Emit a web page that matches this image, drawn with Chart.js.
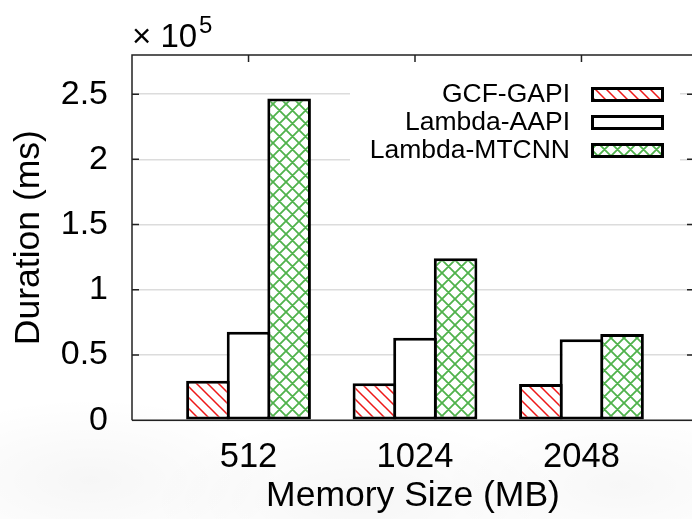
<!DOCTYPE html>
<html>
<head>
<meta charset="utf-8">
<script src="https://cdn.jsdelivr.net/npm/chart.js@4"></script>
<style>
  html, body { margin: 0; padding: 0; background: #fff; }
  #wrap {
    position: relative; width: 692px; height: 519px; overflow: hidden;
    background:
      radial-gradient(ellipse 260px 110px at 90px 480px, rgba(0,0,0,0.035), rgba(0,0,0,0) 75%),
      radial-gradient(ellipse 280px 110px at 360px 500px, rgba(0,0,0,0.035), rgba(0,0,0,0) 75%),
      radial-gradient(ellipse 240px 100px at 620px 485px, rgba(0,0,0,0.03), rgba(0,0,0,0) 75%),
      #fff;
  }
  #box { width: 694px; height: 519px; }
</style>
</head>
<body>
<div id="wrap"><div id="box"><canvas id="myChart"></canvas></div></div>
<script>
/* DATA */
const memorySizes = ['512', '1024', '2048'];
const seriesNames = ['GCF-GAPI', 'Lambda-AAPI', 'Lambda-MTCNN'];
const gcfGapi = [30300, 28300, 27800];
const lambdaAapi = [67900, 63300, 62000];
const lambdaMtcnn = [246700, 124100, 66100];
const yTicks = [0, 50000, 100000, 150000, 200000, 250000];
const yTickLabels = ['0', '0.5', '1', '1.5', '2', '2.5'];
const yMultiplier = ['\u00d7 10', '5'];

const FONT = '"Liberation Sans", Arial, Helvetica, sans-serif';
Chart.defaults.color = '#000';
Chart.defaults.font.family = FONT;

var ctx = document.getElementById('myChart').getContext('2d');

/* PATTERNS */
function makeHatch(color, size, lw, cross) {
  var c = document.createElement('canvas');
  c.width = size; c.height = size;
  var g = c.getContext('2d');
  g.fillStyle = '#fff';
  g.fillRect(0, 0, size, size);
  g.strokeStyle = color;
  g.lineWidth = lw;
  g.beginPath();
  g.moveTo(-1, -1); g.lineTo(size + 1, size + 1);
  g.moveTo(-1, size - 1); g.lineTo(1, size + 1);
  g.moveTo(size - 1, -1); g.lineTo(size + 1, 1);
  if (cross) {
    g.moveTo(-1, size + 1); g.lineTo(size + 1, -1);
    g.moveTo(-1, 1); g.lineTo(1, -1);
    g.moveTo(size - 1, size + 1); g.lineTo(size + 1, size - 1);
  }
  g.stroke();
  return ctx.createPattern(c, 'repeat');
}
const redHatch = makeHatch('rgb(238,24,24)', 11, 1.5, false);
const greenHatch = makeHatch('rgb(80,178,76)', 13, 1.8, true);

function toPoints(arr) {
  return arr.map(function (v, i) { return {x: i, y: v}; });
}

/* FRAME, TICKS, LEGEND, MULTIPLIER */
const framePlugin = {
  id: 'frame',
  afterDraw: function (chart) {
    var c = chart.ctx, a = chart.chartArea;
    var xs = chart.scales.x, ys = chart.scales.y;
    c.save();
    // legend box
    c.fillStyle = '#fff';
    c.fillRect(350, 70, 330, 115);
    var rowsTop = [87, 115, 143];
    chart.data.datasets.forEach(function (ds, i) {
      var top = rowsTop[i];
      c.fillStyle = ds.backgroundColor;
      c.fillRect(591, top, 73, 15);
      c.strokeStyle = '#000';
      c.lineWidth = 3;
      c.strokeRect(592.5, top + 1.5, 70, 12);
      c.fillStyle = '#000';
      c.font = '26.5px ' + FONT;
      c.textAlign = 'right';
      c.textBaseline = 'alphabetic';
      c.fillText(ds.label, 570, top + 15);
    });
    // frame
    c.strokeStyle = '#222';
    c.lineWidth = 1.5;
    c.beginPath();
    c.moveTo(a.left, a.bottom); c.lineTo(a.left, a.top); c.lineTo(a.right, a.top);
    c.moveTo(a.left, a.bottom); c.lineTo(a.right, a.bottom);
    c.lineTo(a.right, a.top);
    yTicks.forEach(function (v) {
      var y = ys.getPixelForValue(v);
      c.moveTo(a.left, y); c.lineTo(a.left + 7, y);
      c.moveTo(a.right, y); c.lineTo(a.right - 7, y);
    });
    memorySizes.forEach(function (m, i) {
      var x = xs.getPixelForValue(i);
      c.moveTo(x, a.top); c.lineTo(x, a.top + 7);
    });
    c.stroke();
    // x 10^5
    c.fillStyle = '#000';
    c.textAlign = 'left';
    c.textBaseline = 'alphabetic';
    c.font = '33px ' + FONT;
    c.fillText(yMultiplier[0], 132, 47);
    c.font = '24px ' + FONT;
    c.fillText(yMultiplier[1], 199, 33);
    c.restore();
  }
};

var myChart = new Chart(ctx, {
  type: 'bar',
  data: {
    datasets: [{
      label: seriesNames[0],
      data: toPoints(gcfGapi),
      backgroundColor: redHatch,
      borderColor: '#000',
      borderWidth: 3,
      borderSkipped: false
    }, {
      label: seriesNames[1],
      data: toPoints(lambdaAapi),
      backgroundColor: '#fff',
      borderColor: '#000',
      borderWidth: 3,
      borderSkipped: false
    }, {
      label: seriesNames[2],
      data: toPoints(lambdaMtcnn),
      backgroundColor: greenHatch,
      borderColor: '#000',
      borderWidth: 3,
      borderSkipped: false
    }]
  },
  options: {
    responsive: true,
    maintainAspectRatio: false,
    animation: false,
    categoryPercentage: 0.7315,
    barPercentage: 1.074,
    layout: { padding: { top: 55, left: 0, right: 0, bottom: 0 } },
    plugins: { legend: { display: false }, tooltip: { enabled: false } },
    scales: {
      x: {
        type: 'linear',
        min: -0.7,
        max: 2.676,
        offset: false,
        grid: { display: false, offset: false },
        border: { display: false },
        afterBuildTicks: function (scale) {
          scale.ticks = memorySizes.map(function (m, i) { return {value: i}; });
        },
        afterFit: function (scale) { scale.height = 98.75; },
        ticks: {
          padding: 9,
          font: { size: 34.5 },
          maxRotation: 0,
          callback: function (value) { return memorySizes[value]; }
        },
        title: {
          display: true,
          text: 'Memory Size (MB)',
          font: { size: 35.5 },
          padding: { top: 0, bottom: 1 }
        }
      },
      y: {
        min: 0,
        max: 280000,
        grid: { color: '#dcdcdc', lineWidth: 1.5, drawTicks: false },
        border: { display: false },
        afterBuildTicks: function (scale) {
          scale.ticks = yTicks.map(function (v) { return {value: v}; });
        },
        afterFit: function (scale) { scale.width = 132; },
        ticks: {
          padding: 24,
          font: { size: 34 },
          callback: function (value, index) { return yTickLabels[index]; }
        },
        title: {
          display: true,
          text: 'Duration (ms)',
          font: { size: 35.5 },
          padding: { top: 8, bottom: 0 }
        }
      }
    }
  },
  plugins: [framePlugin]
});
</script>
</body>
</html>
